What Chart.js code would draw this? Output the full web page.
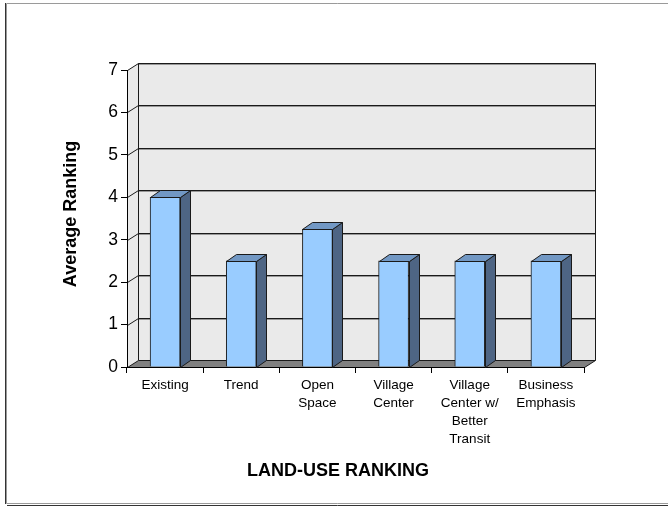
<!DOCTYPE html>
<html>
<head>
<meta charset="utf-8">
<script src="https://cdn.jsdelivr.net/npm/chart.js@4.4.1/dist/chart.umd.min.js"></script>
<style>
  html, body { margin: 0; padding: 0; background: #fff; }
  #wrap { width: 668px; height: 507px; }
</style>
</head>
<body>
<div id="wrap"><canvas id="rankingChart" width="668" height="507"></canvas></div>
<script>
// land-use scenarios and their average ranking
const categories = [
  'Existing',
  'Trend',
  ['Open', 'Space'],
  ['Village', 'Center'],
  ['Village', 'Center w/', 'Better', 'Transit'],
  ['Business', 'Emphasis']
];
const avgRanking = [4, 2.5, 3.25, 2.5, 2.5, 2.5];
const yTicks = [0, 1, 2, 3, 4, 5, 6, 7];
const xTitle = 'LAND-USE RANKING';
const yTitle = 'Average Ranking';

const FONT = 'Arial, "Liberation Sans", sans-serif';
const WALL_DX = 11, WALL_DY = 7;   // depth of the back wall
const BAR_DX = 10, BAR_DY = 7;     // depth of each bar

// frame, walls, floor, back-wall grid and axis titles (under everything else)
const wallsPlugin = {
  id: 'walls',
  beforeDraw(chart) {
    const ctx = chart.ctx;
    const a = chart.chartArea;
    const y = chart.scales.y;
    ctx.save();
    ctx.fillStyle = '#fff';
    ctx.fillRect(0, 0, chart.width, chart.height);

    // outer frame
    ctx.strokeStyle = '#9a9a9a';
    ctx.lineWidth = 1;
    ctx.beginPath();
    ctx.moveTo(chart.width, 3.5); ctx.lineTo(6.5, 3.5); ctx.lineTo(6.5, 503.5); ctx.lineTo(chart.width, 503.5);
    ctx.stroke();
    ctx.strokeStyle = '#333';
    ctx.beginPath();
    ctx.moveTo(5.5, 3); ctx.lineTo(5.5, 504);
    ctx.moveTo(7, 505.5); ctx.lineTo(chart.width, 505.5);
    ctx.stroke();

    const L = Math.round(a.left) + 0.5, R = Math.round(a.right) + 0.5;
    const T = Math.round(a.top) + 0.5, B = Math.round(a.bottom) + 0.5;

    // left wall
    ctx.fillStyle = '#eaeaea';
    ctx.beginPath();
    ctx.moveTo(L, B); ctx.lineTo(L, T); ctx.lineTo(L + WALL_DX, T - WALL_DY); ctx.lineTo(L + WALL_DX, B - WALL_DY);
    ctx.closePath();
    ctx.fill();
    // back wall
    ctx.fillRect(L + WALL_DX, T - WALL_DY, R - L, B - T);

    // grid lines on the back wall, joined to the axis across the left wall
    ctx.lineWidth = 1;
    yTicks.forEach(v => {
      if (v === 0) return;
      const py = Math.round(y.getPixelForValue(v)) + 0.5;
      ctx.strokeStyle = '#1a1a1a';
      ctx.beginPath();
      ctx.moveTo(L, py);
      ctx.lineTo(L + WALL_DX, py - WALL_DY);
      ctx.lineTo(R + WALL_DX, py - WALL_DY);
      ctx.stroke();
      ctx.strokeStyle = 'rgba(0,0,0,0.35)';
      ctx.beginPath();
      ctx.moveTo(L + WALL_DX, py - WALL_DY + 1);
      ctx.lineTo(R + WALL_DX, py - WALL_DY + 1);
      ctx.stroke();
    });

    // wall edges
    ctx.strokeStyle = '#1a1a1a';
    ctx.beginPath();
    ctx.moveTo(L + WALL_DX, B - WALL_DY); ctx.lineTo(L + WALL_DX, T - WALL_DY);
    ctx.lineTo(R + WALL_DX, T - WALL_DY); ctx.lineTo(R + WALL_DX, B - WALL_DY);
    ctx.stroke();

    // floor
    ctx.fillStyle = '#808080';
    ctx.beginPath();
    ctx.moveTo(L, B); ctx.lineTo(R, B); ctx.lineTo(R + WALL_DX, B - WALL_DY); ctx.lineTo(L + WALL_DX, B - WALL_DY);
    ctx.closePath();
    ctx.fill();
    ctx.stroke();

    // axis titles
    ctx.fillStyle = '#000';
    ctx.font = 'bold 18px ' + FONT;
    ctx.textAlign = 'center';
    ctx.textBaseline = 'middle';
    ctx.fillText(xTitle, 338, 471);
    ctx.translate(71, 214);
    ctx.rotate(-Math.PI / 2);
    ctx.fillText(yTitle, 0, 0);
    ctx.restore();
  }
};

// top and side faces of each bar
const barDepthPlugin = {
  id: 'barDepth',
  afterDatasetsDraw(chart) {
    const ctx = chart.ctx;
    const meta = chart.getDatasetMeta(0);
    ctx.save();
    ctx.strokeStyle = '#1a1a1a';
    ctx.lineWidth = 1;
    ctx.lineJoin = 'round';
    meta.data.forEach(bar => {
      const half = bar.width / 2;
      const x0 = Math.round(bar.x - half) + 0.5, x1 = Math.round(bar.x + half) + 0.5;
      const top = Math.round(bar.y) + 0.5, base = Math.round(bar.base) + 0.5;
      // side
      ctx.fillStyle = '#4e6584';
      ctx.beginPath();
      ctx.moveTo(x1, top); ctx.lineTo(x1 + BAR_DX, top - BAR_DY);
      ctx.lineTo(x1 + BAR_DX, base - BAR_DY); ctx.lineTo(x1, base);
      ctx.closePath();
      ctx.fill(); ctx.stroke();
      // top
      ctx.fillStyle = '#7298c4';
      ctx.beginPath();
      ctx.moveTo(x0, top); ctx.lineTo(x0 + BAR_DX, top - BAR_DY);
      ctx.lineTo(x1 + BAR_DX, top - BAR_DY); ctx.lineTo(x1, top);
      ctx.closePath();
      ctx.fill(); ctx.stroke();
    });
    ctx.restore();
  }
};

new Chart(document.getElementById('rankingChart'), {
  type: 'bar',
  data: {
    labels: categories,
    datasets: [{
      data: avgRanking,
      backgroundColor: '#99ccff',
      borderColor: '#1a1a1a',
      borderWidth: 1,
      barThickness: 30
    }]
  },
  options: {
    responsive: false,
    animation: false,
    events: [],
    layout: { padding: { left: 0, right: 84, top: 70, bottom: 0 } },
    plugins: { legend: { display: false }, tooltip: { enabled: false } },
    scales: {
      x: {
        afterFit(scale) { scale.height = 140; },
        grid: { display: true, offset: true, drawOnChartArea: false, tickLength: 6, color: '#000' },
        border: { display: true, color: '#000' },
        ticks: {
          color: '#000', padding: 3, maxRotation: 0, autoSkip: false,
          font: { family: FONT, size: 13.5, lineHeight: 1.33 }
        }
      },
      y: {
        min: 0, max: 7,
        afterFit(scale) { scale.width = 127; },
        afterBuildTicks(scale) { scale.ticks = yTicks.map(v => ({ value: v })); },
        grid: { display: true, drawOnChartArea: false, tickLength: 6, color: '#000' },
        border: { display: true, color: '#000' },
        ticks: { color: '#000', padding: 3, font: { family: FONT, size: 17.5 } }
      }
    }
  },
  plugins: [wallsPlugin, barDepthPlugin]
});
</script>
</body>
</html>
